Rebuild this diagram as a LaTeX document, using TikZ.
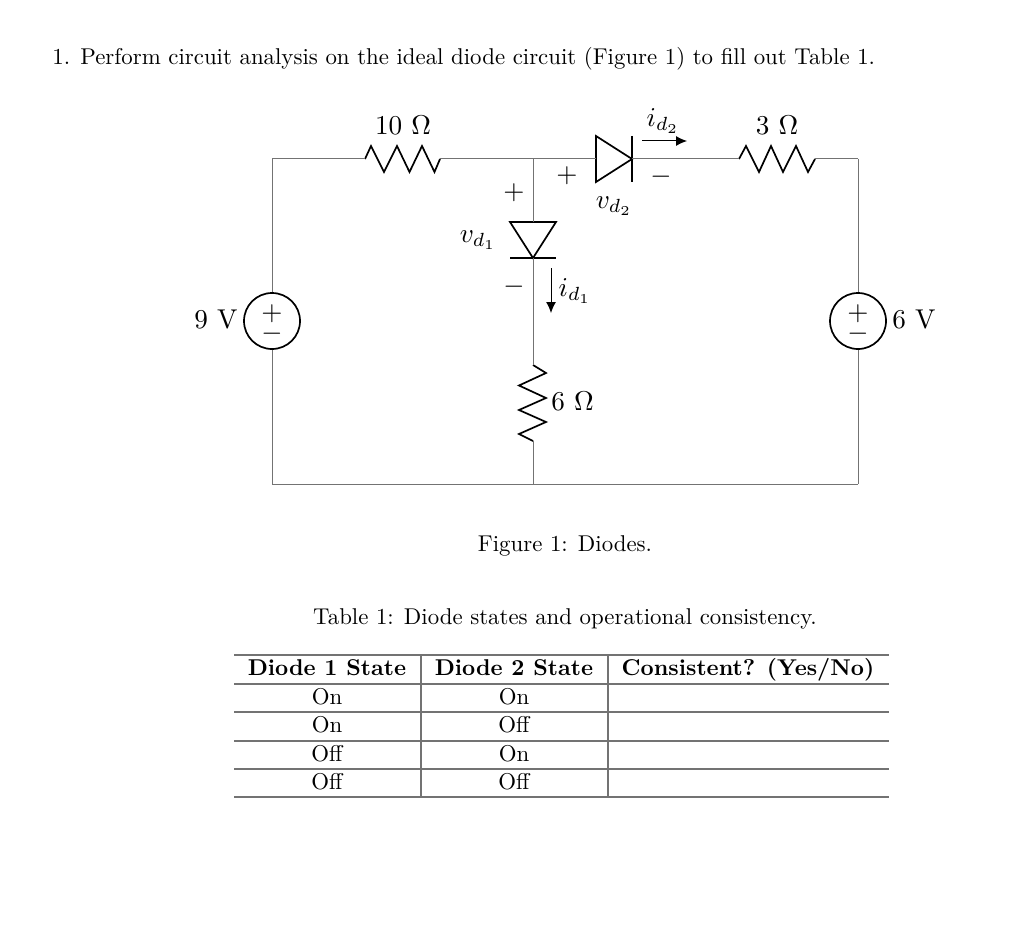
\documentclass[tikz,border=0pt]{standalone}
\usepackage{amsmath}
\usetikzlibrary{arrows.meta}

\tikzset{
	wire/.style={draw=black!55, line width=1pt},
	elem/.style={draw=black, line width=1.7pt, line join=miter},
	rule/.style={draw=black!55, line width=1.1pt},
	src/.style={circle, draw=black, line width=1.7pt, minimum size=56pt, inner sep=0pt, fill=white},
	curr/.style={draw=black, line width=1pt, -{Latex[length=11pt,width=10pt]}},
	lbl/.style={inner sep=0pt, scale=2.285, transform shape, anchor=base},
	hdr/.style={lbl, font=\bfseries},
	cct/.style={inner sep=0pt, scale=2.72, transform shape}
}

\begin{document}
\begin{tikzpicture}[x=1pt, y=-1pt]
	\useasboundingbox (0, 0) rectangle (1024, 933);

	\node[lbl, anchor=base west] (task) at (52, 64.5) {1. Perform circuit analysis on the ideal diode circuit (Figure 1) to fill out Table 1.};

	% corners and junctions
	\coordinate (tl) at (272, 159);
	\coordinate (tr) at (858, 159);
	\coordinate (bl) at (272, 484);
	\coordinate (br) at (858, 484);
	\coordinate (jt) at (533, 159);
	\coordinate (jb) at (533, 484);

	% sources
	\node[src] (vs1) at (272, 321) {};
	\node[src] (vs2) at (858, 321) {};
	\node[cct] (vs1p) at (272, 314) {$+$};
	\node[cct] (vs1m) at (272, 334) {$-$};
	\node[cct] (vs2p) at (858, 314) {$+$};
	\node[cct] (vs2m) at (858, 334) {$-$};
	\node[cct, anchor=base] (vs1l) at (216, 328) {9 V};
	\node[cct, anchor=base] (vs2l) at (914, 328) {6 V};

	% resistors
	\coordinate (r1a) at (365, 159);
	\coordinate (r1b) at (440, 159);
	\coordinate (r2a) at (739, 159);
	\coordinate (r2b) at (815, 159);
	\coordinate (r3a) at (533, 365);
	\coordinate (r3b) at (533, 441);
	\draw[elem] (r1a) -- ++(6, -13) -- ++(13, 26) -- ++(13, -26) -- ++(12.5, 26) -- ++(12.5, -26) -- ++(12.5, 26) -- (r1b);
	\draw[elem] (r2a) -- ++(7, -13) -- ++(13, 26) -- ++(12, -26) -- ++(12, 26) -- ++(13, -26) -- ++(12, 26) -- (r2b);
	\draw[elem] (r3a) -- ++(13, 8) -- ++(-27, 12.5) -- ++(27, 12.5) -- ++(-27, 12) -- ++(27, 12) -- ++(-27, 12) -- (r3b);
	\node[cct, anchor=base] (r1l) at (403, 135) {10 $\Omega$};
	\node[cct, anchor=base] (r2l) at (777, 135) {3 $\Omega$};
	\node[cct, anchor=base] (r3l) at (572.5, 410) {6 $\Omega$};

	% diodes
	\coordinate (d1a) at (533, 222);
	\coordinate (d1c) at (533, 258);
	\coordinate (d2a) at (596, 159);
	\coordinate (d2c) at (632, 159);
	\draw[elem] (510, 222) -- (556, 222) -- (d1c) -- cycle;
	\draw[elem] (510, 258) -- (556, 258);
	\draw[elem] (596, 136) -- (596, 182) -- (d2c) -- cycle;
	\draw[elem] (632, 136) -- (632, 182);

	% wires
	\draw[wire] (tl) -- (r1a);
	\draw[wire] (r1b) -- (jt);
	\draw[wire] (jt) -- (d2a);
	\draw[wire] (d2c) -- (r2a);
	\draw[wire] (r2b) -- (tr);
	\draw[wire] (tl) -- (vs1);
	\draw[wire] (vs1) -- (bl);
	\draw[wire] (tr) -- (vs2);
	\draw[wire] (vs2) -- (br);
	\draw[wire] (bl) -- (br);
	\draw[wire] (jt) -- (d1a);
	\draw[wire] (d1c) -- (r3a);
	\draw[wire] (r3b) -- (jb);

	% diode labels
	\node[cct] (d2p) at (567, 176) {$+$};
	\node[cct] (d2m) at (661, 177) {$-$};
	\node[cct] (d1p) at (514, 193) {$+$};
	\node[cct] (d1m) at (514, 287) {$-$};
	\node[cct] (vd2) at (614, 206) {$v_{d_2}$};
	\node[cct] (vd1) at (478, 240) {$v_{d_1}$};
	\node[cct] (id2) at (663, 121) {$i_{d_2}$};
	\node[cct] (id1) at (575, 291) {$i_{d_1}$};
	\coordinate (id2a) at (642, 141);
	\coordinate (id2b) at (687, 141);
	\coordinate (id1a) at (551, 268);
	\coordinate (id1b) at (551, 313);
	\draw[curr] (id2a) -- (id2b);
	\draw[curr] (id1a) -- (id1b);

	\node[lbl] (figcap) at (565, 551) {Figure 1: Diodes.};
	\node[lbl] (tabcap) at (565, 624) {Table 1: Diode states and operational consistency.};

	% table
	\foreach \y in {655, 684, 712, 741, 769, 797}
		\draw[rule] (234, \y) -- (889, \y);
	\foreach \x in {421, 608}
		\draw[rule] (\x, 655) -- (\x, 797);

	\node[hdr] (h1) at (327, 675) {Diode 1 State};
	\node[hdr] (h2) at (514, 675) {Diode 2 State};
	\node[hdr] (h3) at (748, 675) {Consistent? (Yes/No)};
	\node[lbl] (a1) at (327, 704) {On};
	\node[lbl] (b1) at (514, 704) {On};
	\node[lbl] (a2) at (327, 732.5) {On};
	\node[lbl] (b2) at (514, 732.5) {Off};
	\node[lbl] (a3) at (327, 761) {Off};
	\node[lbl] (b3) at (514, 761) {On};
	\node[lbl] (a4) at (327, 789) {Off};
	\node[lbl] (b4) at (514, 789) {Off};
\end{tikzpicture}
\end{document}
